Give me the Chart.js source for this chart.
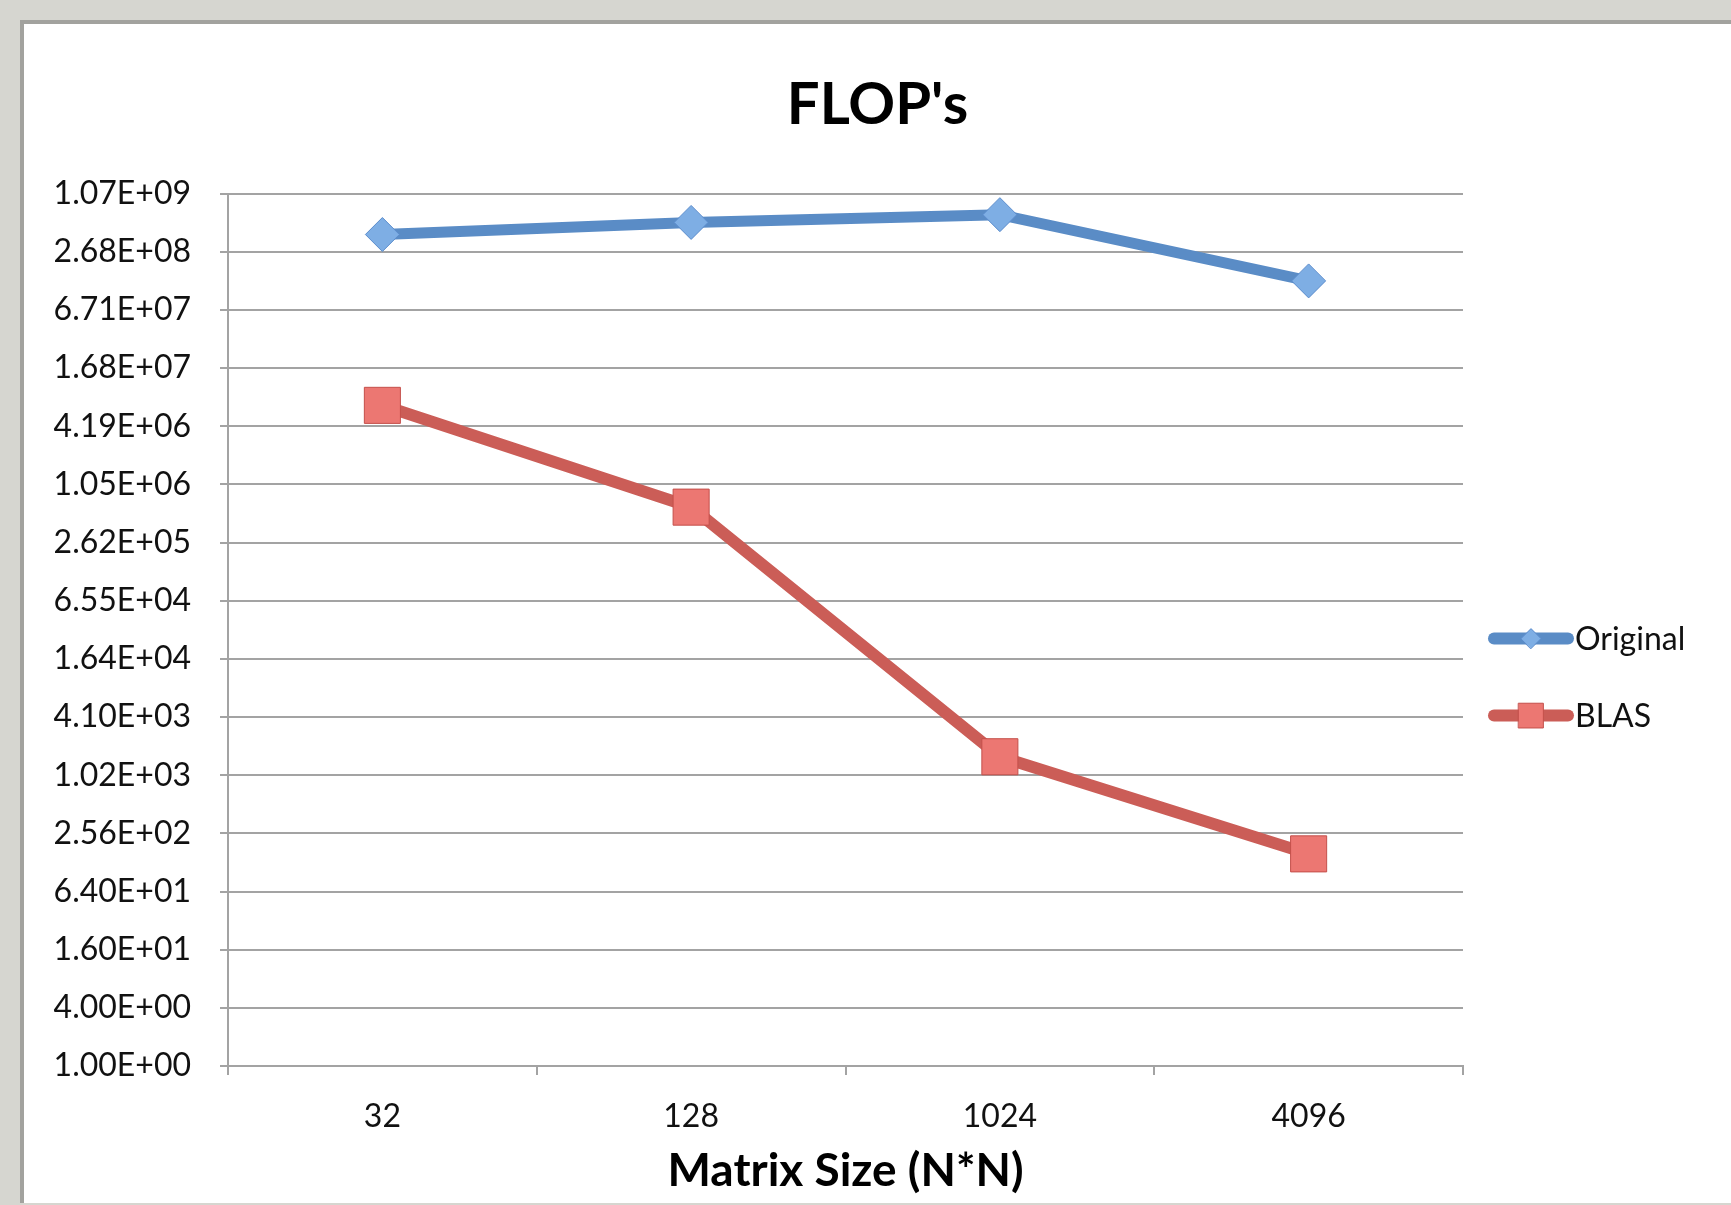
<!DOCTYPE html>
<html>
<head>
<meta charset="utf-8">
<title>FLOP's</title>
<script src="https://cdn.jsdelivr.net/npm/chart.js@4.4.1/dist/chart.umd.min.js"></script>
<style>
    body { margin: 0; background: #d6d6d0; width: 1731px; height: 1205px; overflow: hidden; }
    #panel {
        position: absolute; left: 20px; top: 20px; width: 1711px; height: 1183px;
        background: #fff; border-left: 4px solid #a2a29e; border-top: 4px solid #a2a29e;
        box-sizing: border-box;
    }
    #box { position: absolute; left: 0; top: 0; width: 1707px; height: 1179px; }
</style>
</head>
<body>
<div id="panel"><div id="box"><canvas id="flops"></canvas></div></div>
<script>
// values (log scale, base 4 gridlines)
var categories = ['32', '128', '1024', '4096'];
var originalFlops = [4.05e8, 5.4e8, 6.5e8, 1.34e8];
var blasFlops = [6.9e6, 6.1e5, 1.59e3, 157];

var yTickValues = [1, 4, 16, 64, 256, 1024, 4096, 16384, 65536, 262144,
    1048576, 4194304, 16777216, 67108864, 268435456, 1073741824];
var yTickLabels = ['1.00E+00', '4.00E+00', '1.60E+01', '6.40E+01', '2.56E+02', '1.02E+03',
    '4.10E+03', '1.64E+04', '6.55E+04', '2.62E+05', '1.05E+06', '4.19E+06',
    '1.68E+07', '6.71E+07', '2.68E+08', '1.07E+09'];

var gridColor = '#a3a3a3';

// legend drawn to the right of the plot, like the Excel one
var sideLegend = {
    id: 'sideLegend',
    afterDraw: function(chart) {
        var ctx = chart.ctx;
        var area = chart.chartArea;
        var x0 = area.right + 27;
        chart.data.datasets.forEach(function(ds, i) {
            var y = area.top + 445 + i * 77;
            ctx.save();
            ctx.strokeStyle = ds.borderColor;
            ctx.lineWidth = 12;
            ctx.lineCap = 'round';
            ctx.beginPath();
            ctx.moveTo(x0 + 4, y);
            ctx.lineTo(x0 + 78, y);
            ctx.stroke();
            ctx.fillStyle = ds.pointBackgroundColor;
            ctx.strokeStyle = ds.pointBorderColor;
            ctx.lineWidth = 1;
            Chart.helpers.drawPoint(ctx, {
                pointStyle: ds.pointStyle,
                radius: i == 0 ? 10 : 17.5,
                borderWidth: 1,
                rotation: 0
            }, x0 + 41, y);
            ctx.fillStyle = '#111';
            ctx.font = '32px Lato';
            ctx.textBaseline = 'middle';
            ctx.textAlign = 'left';
            ctx.fillText(ds.label, x0 + 85, y + 1);
            ctx.restore();
        });
    }
};

var ctx = document.getElementById('flops').getContext('2d');

var data = {
    labels: categories,
    datasets: [{
        label: 'Original',
        data: originalFlops,
        borderColor: '#5a8cc6',
        borderWidth: 11,
        pointStyle: 'rectRot',
        pointRadius: 17,
        pointHoverRadius: 17,
        pointBackgroundColor: '#7eaee4',
        pointBorderColor: '#5b8ccc',
        pointBorderWidth: 1,
        tension: 0
    },
    {
        label: 'BLAS',
        data: blasFlops,
        borderColor: '#cb5d57',
        borderWidth: 12,
        pointStyle: 'rect',
        pointRadius: 25.5,
        pointHoverRadius: 25.5,
        pointBackgroundColor: '#ec7772',
        pointBorderColor: '#c4504b',
        pointBorderWidth: 1,
        tension: 0
    }]
};

var options = {
    responsive: true,
    maintainAspectRatio: false,
    animation: false,
    layout: {
        padding: { left: 0, right: 0, top: 0, bottom: 1 }
    },
    plugins: {
        legend: { display: false },
        tooltip: { enabled: false },
        title: {
            display: true,
            text: "FLOP's",
            color: '#000',
            font: { family: 'Lato', size: 58, weight: 'bold' },
            padding: { top: 46, bottom: 54 }
        }
    },
    scales: {
        x: {
            offset: true,
            grid: {
                offset: true,
                drawOnChartArea: false,
                color: gridColor,
                lineWidth: 2,
                tickLength: 9
            },
            border: { color: gridColor, width: 2 },
            ticks: {
                color: '#111',
                font: { family: 'Lato', size: 32 },
                padding: 22
            },
            title: {
                display: true,
                text: 'Matrix Size (N*N)',
                color: '#000',
                font: { family: 'Lato', size: 46, weight: 'bold', lineHeight: 0.6 },
                padding: { top: 0, bottom: 17 }
            }
        },
        y: {
            type: 'logarithmic',
            min: 1,
            max: 1073741824,
            afterBuildTicks: function(scale) {
                scale.ticks = yTickValues.map(function(v) { return { value: v }; });
            },
            afterFit: function(scale) {
                scale.width = 204;
            },
            grid: {
                color: gridColor,
                lineWidth: 2,
                tickLength: 8
            },
            border: { color: gridColor, width: 2 },
            ticks: {
                autoSkip: false,
                color: '#111',
                font: { family: 'Lato', size: 32 },
                padding: 29,
                callback: function(value) {
                    return yTickLabels[yTickValues.indexOf(value)];
                }
            }
        },
        // empty space on the right that holds the legend
        legendSpace: {
            type: 'linear',
            position: 'right',
            display: true,
            afterFit: function(scale) {
                scale.width = 268;
            },
            grid: { display: false },
            border: { display: false },
            ticks: { display: false }
        }
    }
};

var graph = new Chart(ctx, {
    type: 'line',
    data: data,
    options: options,
    plugins: [sideLegend]
});
</script>
</body>
</html>
